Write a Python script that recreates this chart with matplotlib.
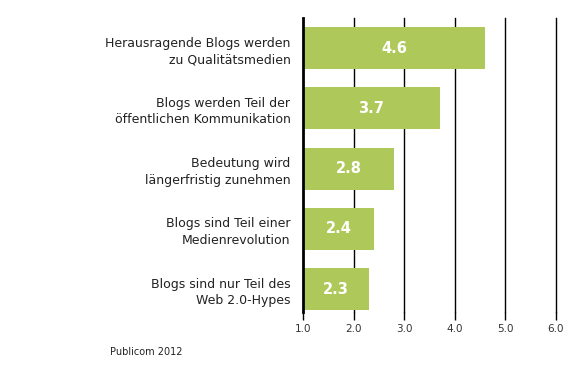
import numpy as np
import matplotlib
matplotlib.use("Agg")
import matplotlib.pyplot as plt

labels = [
    "Herausragende Blogs werden\nzu Qualitätsmedien",
    "Blogs werden Teil der\nöffentlichen Kommunikation",
    "Bedeutung wird\nlängerfristig zunehmen",
    "Blogs sind Teil einer\nMedienrevolution",
    "Blogs sind nur Teil des\nWeb 2.0-Hypes",
]
values = [4.6, 3.7, 2.8, 2.4, 2.3]
ticks = [1.0, 2.0, 3.0, 4.0, 5.0, 6.0]
base = 1.0
source = "Publicom 2012"

bar_color = "#AFC85A"

fig = plt.figure(figsize=(5.68, 3.78), dpi=100)
ax = fig.add_axes([303 / 568, 1 - 312 / 378, (556 - 303) / 568, (312 - 18) / 378])

y = np.arange(len(values))
widths = [v - base for v in values]
ax.barh(y, widths, left=base, height=0.7, color=bar_color, zorder=3)

for yi, v in zip(y, values):
    ax.text(base + (v - base) / 2, yi, f"{v:.1f}", color="white", ha="center",
            va="center", fontsize=10.5, fontweight="bold", zorder=4)

ax.set_xlim(1.0, 6.0)
ax.set_ylim(len(values) - 1 + 0.38, -0.5)
ax.set_xticks(ticks)
ax.set_xticklabels([f"{t:.1f}" for t in ticks], fontsize=7.5, color="#333333")
for t in ticks[1:]:
    ax.axvline(t, color="black", lw=1.0, zorder=2, clip_on=False)
ax.axvline(1.0, color="black", lw=2.0, zorder=5, clip_on=False)

ax.set_yticks(y)
ax.set_yticklabels(labels, fontsize=9, color="#222222", linespacing=1.35)
ax.tick_params(axis="y", length=0, pad=9)
ax.tick_params(axis="x", length=6, width=1.0, color="black", pad=3)

for s in ax.spines.values():
    s.set_visible(False)

fig.text(110 / 568, 1 - 352 / 378, source, fontsize=7, color="#222222",
         va="center", ha="left")

fig.savefig("out.png", dpi=100)
